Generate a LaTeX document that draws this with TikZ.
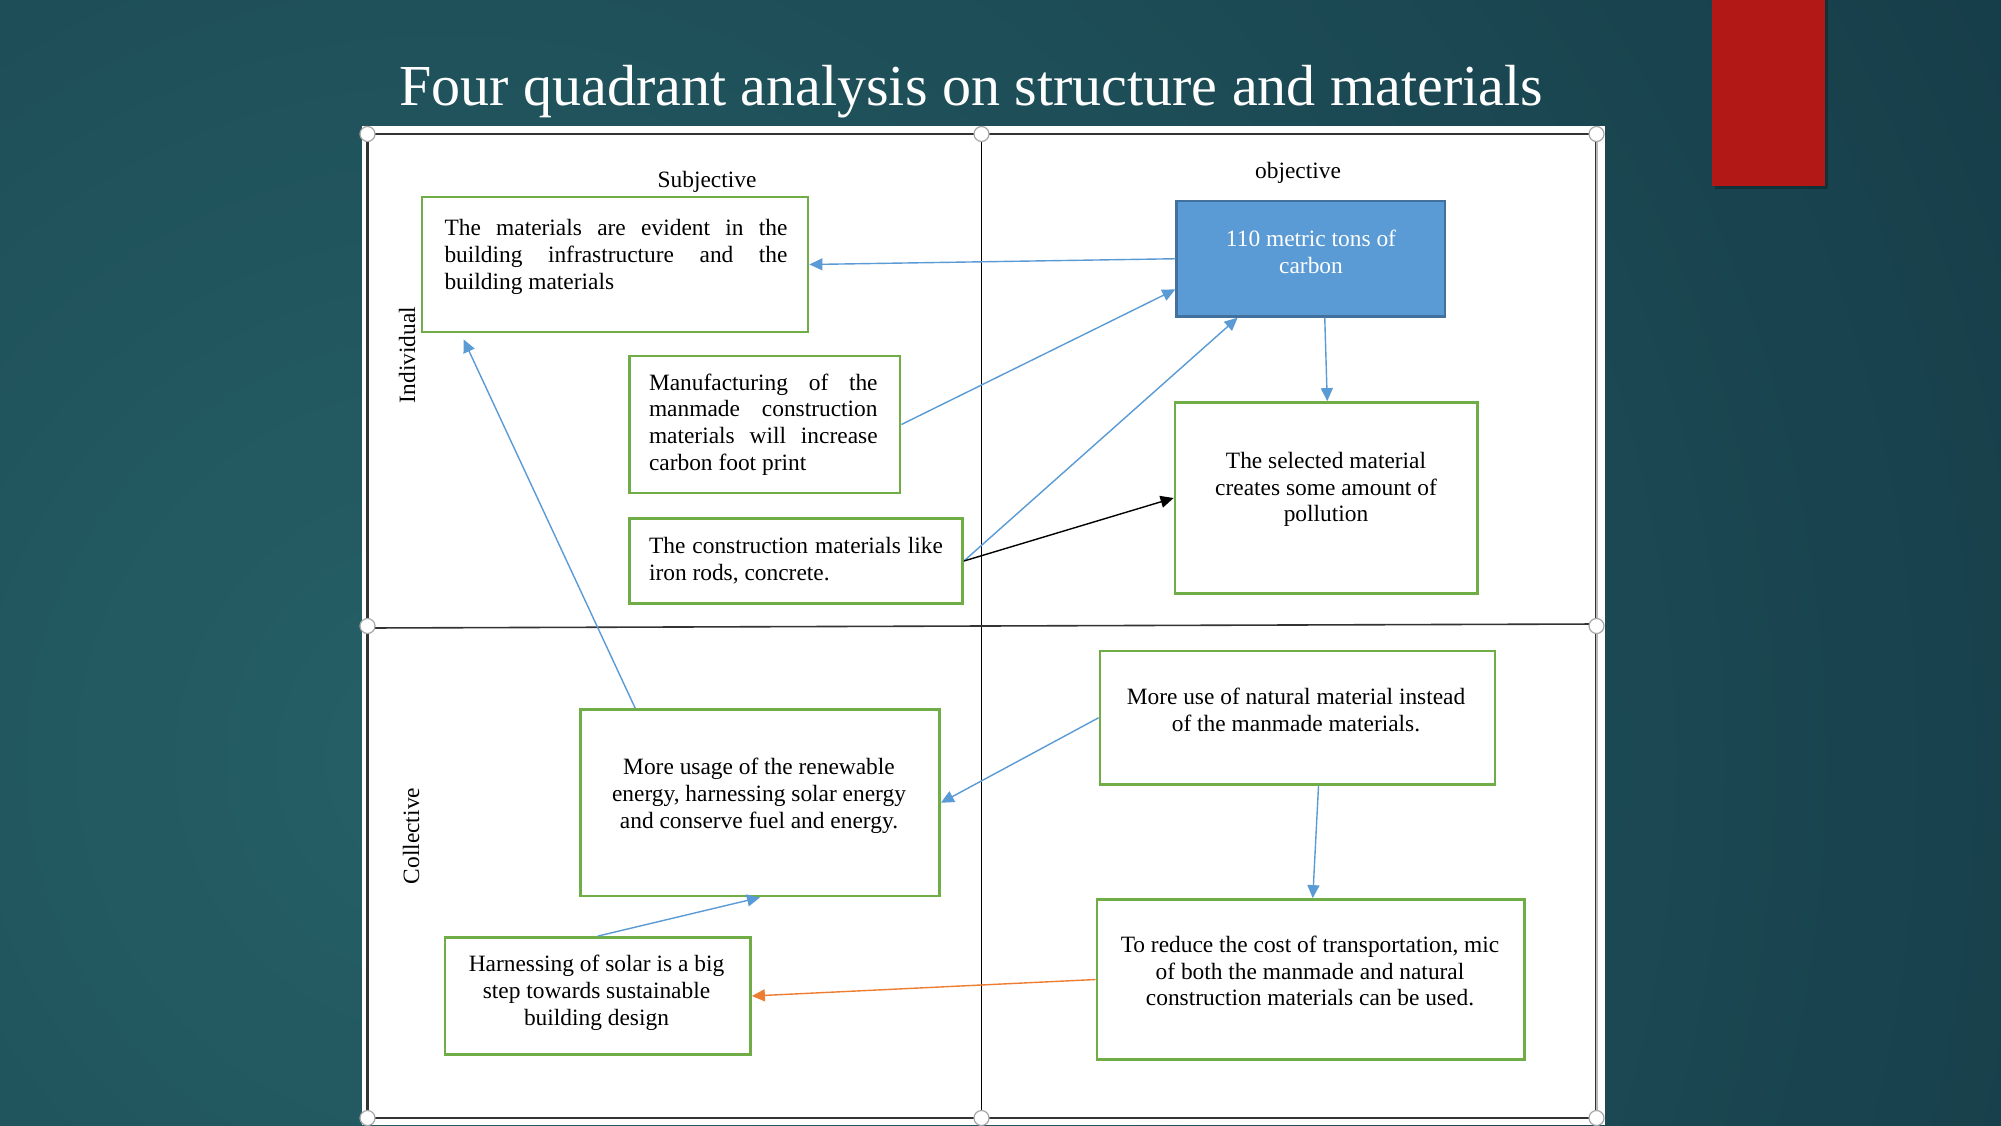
\documentclass[tikz,border=0pt]{standalone}
\usepackage{fontspec}
\setmainfont{Liberation Serif}
\usetikzlibrary{arrows.meta,calc,fit}

\definecolor{bgdark}{RGB}{15,46,60}
\definecolor{bglight}{RGB}{38,96,103}
\definecolor{boxgreen}{RGB}{112,173,71}
\definecolor{linkblue}{RGB}{91,155,213}
\definecolor{carbonedge}{RGB}{65,113,156}
\definecolor{linkorange}{RGB}{237,125,49}
\definecolor{tabred}{RGB}{178,25,22}

\begin{document}
\begin{tikzpicture}[x=0.5pt,y=-0.5pt,
        gbox/.style={draw=boxgreen, line width=1.4pt, inner sep=0pt},
        cbox/.style={draw=carbonedge, fill=linkblue, line width=1.2pt, inner sep=0pt},
        txt/.style={inner sep=0pt, font=\fontsize{11.7}{13.4}\selectfont},
        link/.style={-{Triangle[length=6.5pt,width=6pt]}, draw=linkblue, line width=0.7pt},
        handle/.style={circle, draw=gray!70, fill=white, line width=0.6pt,
        inner sep=0pt, minimum size=7.5pt},
        ]

        % slide background
        \useasboundingbox (0,0) rectangle (2001,1125);
        \begin{scope}
        \clip (0,0) rectangle (2001,1125);
        \fill[bgdark] (0,0) rectangle (2001,1125);
        \shade[inner color=bglight, outer color=bgdark] (450,760) circle (2500);
        \end{scope}
        \fill[black, opacity=0.25] (1715,0) rectangle (1828,189);
        \fill[tabred] (1712,0) rectangle (1825,186);

        \node (title) [anchor=base, text=white, inner sep=0pt,
        font=\fontsize{29}{34}\selectfont] at (971,105)
        {Four quadrant analysis on structure and materials};

        % quadrant frame
        \fill[white] (362,126) rectangle (1605,1125);
        \draw[black!80, line width=1.1pt] (367.5,134) rectangle (1596.5,1118);
        \draw[gray!55, line width=1pt] (1596.5,134) -- (1596.5,1118);
        \draw[black, line width=0.6pt] (981.5,134) -- (981.5,1118);
        \draw[black!80, line width=0.8pt] (367.5,628) -- (1596.5,624);

        \foreach \hx/\hy [count=\i] in {367.5/134, 981.5/134, 1596.5/134, 367.5/626,
        1596.5/626, 367.5/1118, 981.5/1118, 1596.5/1118}
        \node (h\i) [handle] at (\hx,\hy) {};

        \node (subj) [txt] at (707,181.5) {Subjective};
        \node (obj) [txt] at (1298,172.5) {objective};
        \node (indiv) [txt, rotate=90] at (407,355) {Individual};
        \node (coll) [txt, rotate=90] at (411,836) {Collective};

        % boxes
        \node (mat) [gbox, fit={(422,197) (808,332)}] {};
        \node (carbon) [cbox, fit={(1176.5,201) (1445,316.5)}] {};
        \node (manuf) [gbox, fit={(629.5,356) (900,493)}] {};
        \node (constr) [gbox, fit={(629.5,518.5) (962.5,603.5)}] {};
        \node (select) [gbox, fit={(1175,402.5) (1477.5,593.5)}] {};
        \node (natural) [gbox, fit={(1100,651) (1495,784.5)}] {};
        \node (renew) [gbox, fit={(580.5,709.5) (939.5,896)}] {};
        \node (harness) [gbox, fit={(445,937.5) (750.5,1054.5)}] {};
        \node (transp) [gbox, fit={(1097,899.5) (1524.5,1059.5)}] {};

        \node (mattxt) [txt, text width=171.5pt, align=justify] at (616,257)
        {The materials are evident in the\linebreak building infrastructure and the\linebreak building materials};
        \node (carbontxt) [txt, text=white, align=center] at (1311,252) {110 metric tons of\\carbon};
        \node (manuftxt) [txt, text width=114.3pt, align=justify] at (763.3,424.5)
        {Manufacturing of the\linebreak manmade construction\linebreak materials will increase\linebreak carbon foot print};
        \node (constrtxt) [txt, text width=147pt, align=justify] at (796,560.5)
        {The construction materials like\linebreak iron rods, concrete.};
        \node (selecttxt) [txt, align=center] at (1326,489.5)
        {The selected material\\creates some amount of\\pollution};
        \node (naturaltxt) [txt, align=center] at (1296,710)
        {More use of natural material instead\\of the manmade materials.};
        \node (renewtxt) [txt, align=center] at (759,795.5)
        {More usage of the renewable\\energy, harnessing solar energy\\and conserve fuel and energy.};
        \node (harnesstxt) [txt, align=center] at (596.5,993)
        {Harnessing of solar is a big\\step towards sustainable\\building design};
        \node (transptxt) [txt, align=center] at (1310,971)
        {To reduce the cost of transportation, mic\\of both the manmade and natural\\construction materials can be used.};

        % connectors
        \draw[link] (carbon.west) -- (mat.east);
        \draw[link] (manuf.east) -- ($(carbon.south west)!0.24!(carbon.north west)$);
        \draw[link] (constr.east) -- ($(carbon.south west)!0.23!(carbon.south east)$);
        \draw[link, draw=black] (constr.east) -- (select.west);
        \draw[link] ($(carbon.south)+(14,0)$) -- ($(select.north)+(1,0)$);
        \draw[link] ($(renew.north west)!0.155!(renew.north east)$) -- ($(mat.south west)+(43,6)$);
        \draw[link] (natural.west) -- (renew.east);
        \draw[link] (harness.north) -- (renew.south);
        \draw[link] ($(natural.south)+(21,0)$) -- ($(transp.north)+(2,0)$);
        \draw[link, draw=linkorange] (transp.west) -- (harness.east);
\end{tikzpicture}
\end{document}
